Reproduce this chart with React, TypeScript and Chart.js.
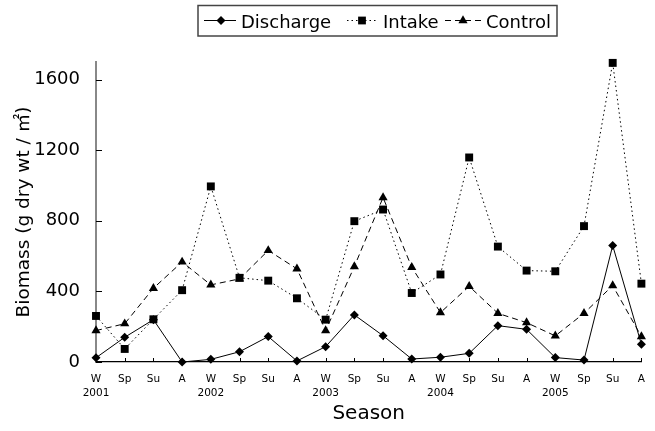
import React, { useEffect, useRef } from 'react';
import { Chart, registerables } from 'chart.js';

Chart.register(...registerables);

const seasonLabels = ['W', 'Sp', 'Su', 'A', 'W', 'Sp', 'Su', 'A', 'W', 'Sp', 'Su', 'A', 'W', 'Sp', 'Su', 'A', 'W', 'Sp', 'Su', 'A'];
const yearLabels = ['2001', '', '', '', '2002', '', '', '', '2003', '', '', '', '2004', '', '', '', '2005', '', '', ''];

const discharge = [24, 140, 240, 0, 15, 58, 144, 6, 87, 267, 149, 17, 27, 49, 206, 185, 25, 11, 660, 100];
const intake = [261, 74, 242, 407, 995, 477, 461, 361, 240, 798, 864, 391, 496, 1159, 654, 518, 514, 770, 1695, 444];
const control = [178, 217, 418, 567, 437, 471, 632, 528, 178, 541, 932, 537, 280, 429, 276, 223, 148, 276, 433, 144];

const yTicks = [0, 400, 800, 1200, 1600];
const yMax = 1700;

const FONT = '"DejaVu Sans", "Noto Sans CJK KR", sans-serif';

function drawMarker(ctx: CanvasRenderingContext2D, style: string, x: number, y: number, r: number) {
  ctx.beginPath();
  if (style === 'rectRot') {
    ctx.moveTo(x, y - r);
    ctx.lineTo(x + r, y);
    ctx.lineTo(x, y + r);
    ctx.lineTo(x - r, y);
  } else if (style === 'rect') {
    const s = Math.SQRT1_2 * r;
    ctx.rect(x - s, y - s, 2 * s, 2 * s);
  } else {
    ctx.moveTo(x, y - r);
    ctx.lineTo(x + r * Math.sin((2 * Math.PI) / 3), y - r * Math.cos((2 * Math.PI) / 3));
    ctx.lineTo(x + r * Math.sin((4 * Math.PI) / 3), y - r * Math.cos((4 * Math.PI) / 3));
  }
  ctx.closePath();
  ctx.fill();
}

const legendItems = [
  { text: 'Discharge', x1: 204, x2: 236, mx: 221, tx: 241, style: 'rectRot', r: 4.5, dash: [] as number[] },
  { text: 'Intake', x1: 347, x2: 377, mx: 362, tx: 383, style: 'rect', r: 5.5, dash: [1.5, 3] },
  { text: 'Control', x1: 445, x2: 482, mx: 463, tx: 486, style: 'triangle', r: 5.3, dash: [6, 4] },
];

const customPlugin = {
  id: 'customDeco',
  afterDraw(chart: any) {
    const ctx: CanvasRenderingContext2D = chart.ctx;
    const xs = chart.scales.x;
    const ys = chart.scales.y;
    const area = chart.chartArea;
    ctx.save();
    ctx.strokeStyle = '#000';
    ctx.lineWidth = 1;
    ctx.beginPath();
    yTicks.forEach((v) => {
      const y = Math.round(ys.getPixelForValue(v)) + 0.5;
      ctx.moveTo(area.left, y);
      ctx.lineTo(area.left + 6, y);
    });
    seasonLabels.forEach((_, i) => {
      const x = Math.round(xs.getPixelForValue(i)) + 0.5;
      ctx.moveTo(x, area.bottom);
      ctx.lineTo(x, area.bottom - 4);
    });
    ctx.stroke();

    ctx.strokeStyle = '#444';
    ctx.lineWidth = 1.5;
    ctx.strokeRect(198, 5.5, 359, 30.5);
    ctx.font = `18px ${FONT}`;
    ctx.textBaseline = 'alphabetic';
    ctx.textAlign = 'left';
    legendItems.forEach((it) => {
      ctx.strokeStyle = '#000';
      ctx.lineWidth = 1;
      ctx.setLineDash(it.dash);
      ctx.beginPath();
      ctx.moveTo(it.x1, 20.5);
      ctx.lineTo(it.x2, 20.5);
      ctx.stroke();
      ctx.setLineDash([]);
      ctx.fillStyle = '#000';
      drawMarker(ctx, it.style, it.mx, 20.5, it.r);
      ctx.fillText(it.text, it.tx, 28);
    });
    ctx.restore();
  },
};

export default function App() {
  const ref = useRef<HTMLCanvasElement | null>(null);
  useEffect(() => {
    if (!ref.current) return;
    const labels = seasonLabels.map((s, i) => (yearLabels[i] ? [s, yearLabels[i]] : s));
    const chart = new Chart(ref.current, {
      type: 'line',
      data: {
        labels,
        datasets: [
          {
            label: 'Discharge',
            data: discharge,
            borderColor: '#000',
            backgroundColor: '#000',
            borderWidth: 1,
            pointStyle: 'rectRot',
            pointRadius: 4.5,
            pointBorderWidth: 0,
            tension: 0,
            clip: false,
          },
          {
            label: 'Intake',
            data: intake,
            borderColor: '#000',
            backgroundColor: '#000',
            borderWidth: 1,
            borderDash: [1.5, 3],
            pointStyle: 'rect',
            pointRadius: 5.6,
            pointBorderWidth: 0,
            tension: 0,
            clip: false,
          },
          {
            label: 'Control',
            data: control,
            borderColor: '#000',
            backgroundColor: '#000',
            borderWidth: 1,
            borderDash: [6, 4],
            pointStyle: 'triangle',
            pointRadius: 5.3,
            pointBorderWidth: 0,
            tension: 0,
            clip: false,
          },
        ],
      },
      options: {
        responsive: false,
        animation: false,
        events: [],
        layout: { padding: { top: 62, right: 11, left: 0, bottom: 0 }, autoPadding: false },
        plugins: { legend: { display: false }, tooltip: { enabled: false }, title: { display: false } },
        scales: {
          x: {
            type: 'category',
            offset: false,
            grid: { display: false, drawTicks: false },
            border: { display: true, color: '#000', width: 1.3 },
            ticks: {
              autoSkip: false,
              maxRotation: 0,
              minRotation: 0,
              padding: 10,
              color: '#000',
              font: { family: FONT, size: 10.5, lineHeight: 1.33 },
            },
            title: {
              display: true,
              text: 'Season',
              color: '#000',
              font: { family: FONT, size: 20 },
              padding: { top: 0, bottom: 5 },
            },
            afterFit: (s: any) => {
              s.height = 69;
            },
          },
          y: {
            min: 0,
            max: yMax,
            grid: { display: false, drawTicks: false },
            border: { display: true, color: '#888', width: 2 },
            ticks: {
              stepSize: 400,
              padding: 16,
              color: '#000',
              font: { family: FONT, size: 18 },
              callback: (v: any) => String(v),
            },
            afterBuildTicks: (s: any) => {
              s.ticks = yTicks.map((v) => ({ value: v }));
            },
            title: {
              display: true,
              text: 'Biomass (g dry wt / ㎡)',
              color: '#000',
              font: { family: FONT, size: 18.5 },
              padding: { top: 13, bottom: 0 },
            },
            afterFit: (s: any) => {
              s.width = 96;
            },
          },
        },
      },
      plugins: [customPlugin],
    });
    return () => chart.destroy();
  }, []);
  return (
    <div style={{ position: 'absolute', left: 0, top: 0, width: 655, height: 431, background: '#fff' }}>
      <canvas ref={ref} width={655} height={431} style={{ width: 655, height: 431, display: 'block' }} />
    </div>
  );
}
